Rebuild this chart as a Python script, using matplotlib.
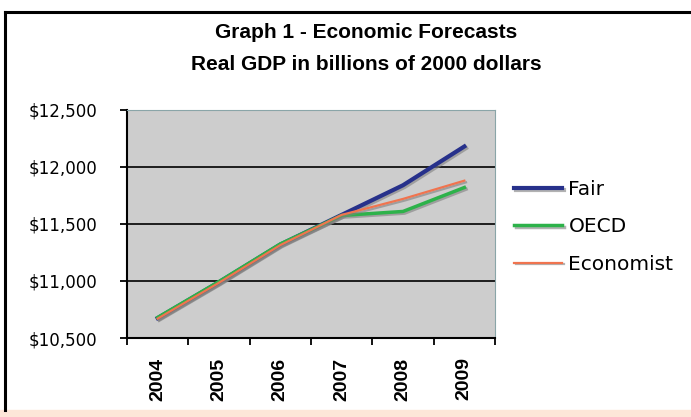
import matplotlib.pyplot as plt
import matplotlib.patheffects as pe
from matplotlib.lines import Line2D
from matplotlib.patches import Rectangle
import numpy as np

years = ['2004', '2005', '2006', '2007', '2008', '2009']
fair = [10675, 10990, 11320, 11580, 11840, 12180]
oecd = [10680, 10995, 11325, 11575, 11610, 11820]
economist = [10670, 10985, 11315, 11580, 11720, 11880]
yticks = [10500, 11000, 11500, 12000, 12500]

W, H = 691, 417
fig = plt.figure(figsize=(W / 100, H / 100), dpi=100)
fig.patch.set_facecolor('white')

ax = fig.add_axes([127 / W, 1 - 338 / H, (495 - 127) / W, (338 - 110) / H])
ax.set_facecolor('#cdcdcd')

x = np.arange(len(years))
shadow = [pe.SimpleLineShadow(offset=(1.2, -1.2), shadow_color='#808080', alpha=0.6), pe.Normal()]
ax.plot(x, fair, color='#27318b', lw=3.0, label='Fair', path_effects=shadow, zorder=3)
ax.plot(x, oecd, color='#2db24a', lw=2.5, label='OECD', path_effects=shadow, zorder=4)
ax.plot(x, economist, color='#f0744f', lw=1.6, label='Economist', path_effects=shadow, zorder=5)

ax.set_xlim(-0.5, len(years) - 0.5)
ax.set_ylim(10500, 12500)
ax.set_yticks(yticks)
ax.set_yticklabels(['${:,}'.format(v) for v in yticks], fontsize=12, family='DejaVu Sans')
ax.yaxis.grid(True, color='black', lw=1.2)
ax.set_axisbelow(True)

ax.set_xticks(np.arange(-0.5, len(years), 1.0))
ax.set_xticklabels([])
ax.set_xticks(x, minor=True)
ax.set_xticklabels(years, minor=True, rotation=90, fontsize=14, fontweight='bold',
                   family='Liberation Sans')
ax.tick_params(axis='x', which='minor', length=0, pad=14)
ax.tick_params(axis='x', which='major', length=5, width=1.3, direction='out')
ax.tick_params(axis='y', length=5, width=1.3, direction='out', pad=16.5)

ax.spines['left'].set_linewidth(1.5)
ax.spines['bottom'].set_linewidth(1.5)
ax.spines['top'].set_color('#8aa5a8')
ax.spines['right'].set_color('#8aa5a8')

leg = fig.legend(*ax.get_legend_handles_labels(), loc='center left',
                 bbox_to_anchor=(514 / W, 1 - 227 / H), frameon=False, borderpad=0,
                 borderaxespad=0, handlelength=2.4, handletextpad=0.3, labelspacing=0.9,
                 prop={'family': 'DejaVu Sans', 'size': 14.5})

for txt, ypix in [('Graph 1 - Economic Forecasts', 33), ('Real GDP in billions of 2000 dollars', 64)]:
    fig.text(366 / W, 1 - ypix / H, txt, ha='center', va='center',
             fontsize=15, fontweight='bold', family='Liberation Sans')

# outer frame
fig.add_artist(Line2D([5 / W, 1], [1 - 12 / H, 1 - 12 / H], color='black', lw=2.2))
fig.add_artist(Line2D([5 / W, 5 / W], [1 - 12 / H, 1 - 410 / H], color='black', lw=2.2))
fig.add_artist(Rectangle((0, 0), 1, 7 / H, color='#fde6d8', transform=fig.transFigure))

fig.savefig('out.png', dpi=100)
